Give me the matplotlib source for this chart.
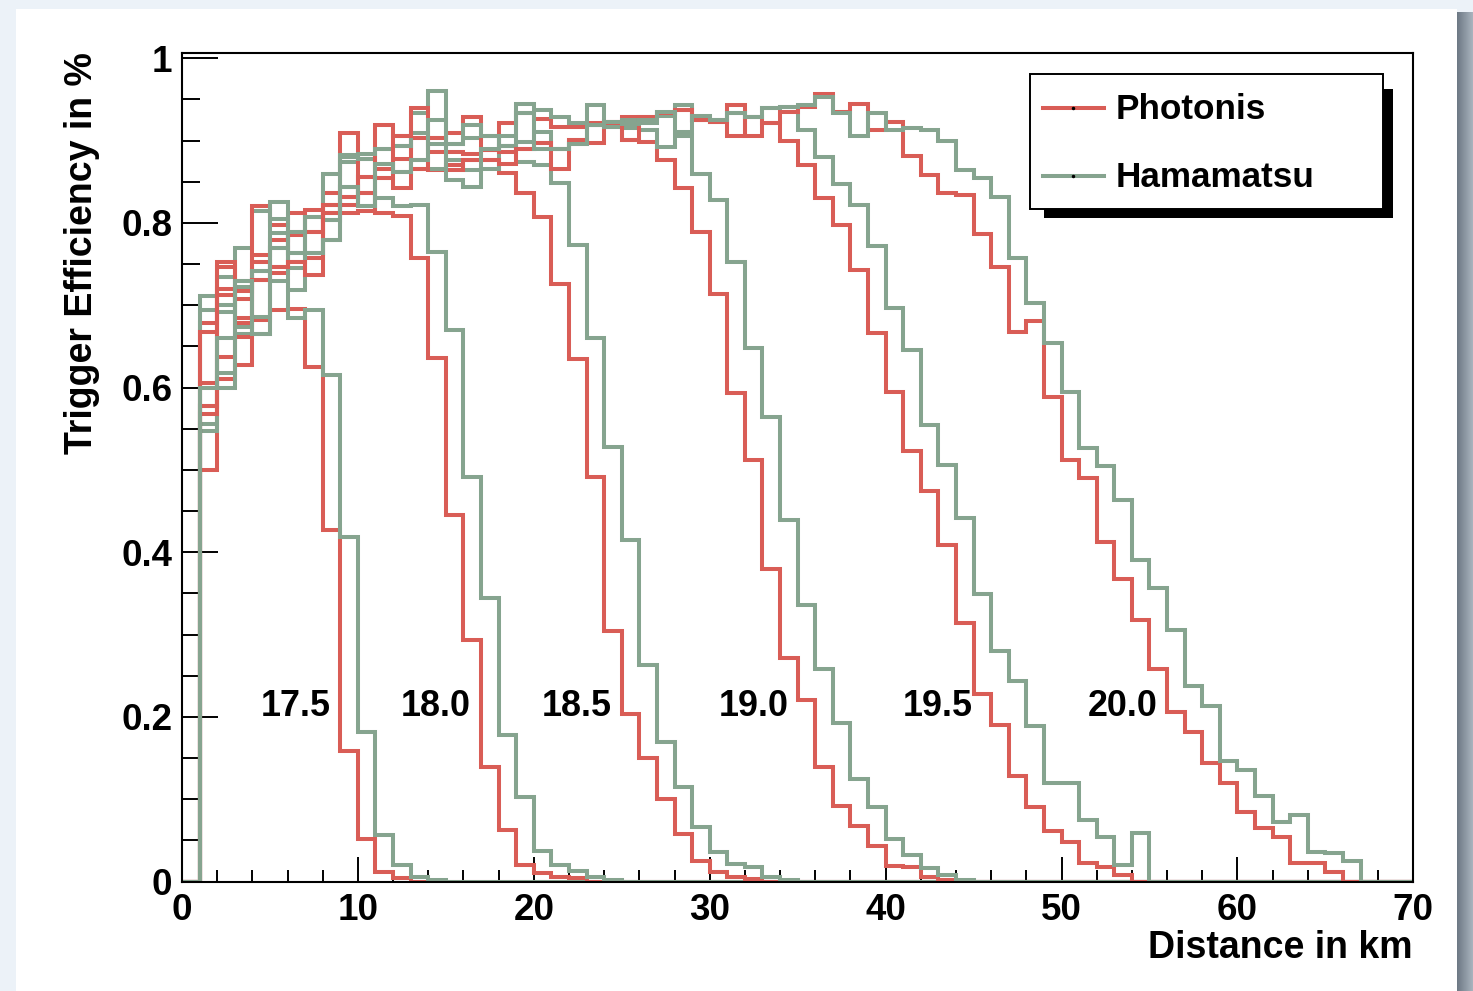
import matplotlib
matplotlib.use("Agg")
import matplotlib.pyplot as plt
import numpy as np
from matplotlib.patches import Rectangle
from matplotlib.lines import Line2D
from matplotlib.colors import LinearSegmentedColormap

# ---------------- data (trigger efficiency per 1 km distance bin, bins start at 0 km) ----------------
photonis_175 = [0, 0.500, 0.610, 0.628, 0.682, 0.694, 0.696, 0.625, 0.427, 0.158, 0.052, 0.012, 0.004]
hamamatsu_175 = [0, 0.547, 0.600, 0.665, 0.665, 0.729, 0.684, 0.694, 0.615, 0.419, 0.182, 0.056, 0.020, 0.006, 0.002]

photonis_180 = [0, 0.605, 0.637, 0.661, 0.731, 0.739, 0.752, 0.757, 0.812, 0.822, 0.836, 0.812, 0.808, 0.757,
                0.636, 0.445, 0.293, 0.139, 0.063, 0.020, 0.010, 0.005, 0.004]
hamamatsu_180 = [0, 0.556, 0.618, 0.673, 0.686, 0.769, 0.763, 0.763, 0.779, 0.844, 0.820, 0.830, 0.820, 0.822,
                 0.765, 0.670, 0.491, 0.344, 0.178, 0.103, 0.037, 0.020, 0.013, 0.006, 0.002]

photonis_185 = [0, 0.568, 0.712, 0.685, 0.753, 0.747, 0.785, 0.789, 0.822, 0.832, 0.856, 0.854, 0.842, 0.866,
                0.864, 0.870, 0.876, 0.876, 0.861, 0.836, 0.807, 0.726, 0.635, 0.491, 0.304, 0.204, 0.150,
                0.100, 0.058, 0.025, 0.011, 0.006, 0.003]
hamamatsu_185 = [0, 0.694, 0.692, 0.722, 0.741, 0.788, 0.745, 0.807, 0.803, 0.874, 0.878, 0.872, 0.862, 0.876,
                 0.866, 0.876, 0.864, 0.866, 0.894, 0.874, 0.870, 0.848, 0.773, 0.660, 0.528, 0.415, 0.263,
                 0.170, 0.115, 0.066, 0.036, 0.021, 0.018, 0.006, 0.002]

photonis_190 = [0, 0.678, 0.746, 0.717, 0.761, 0.779, 0.789, 0.816, 0.836, 0.909, 0.836, 0.866, 0.878, 0.903,
                0.886, 0.886, 0.884, 0.888, 0.886, 0.890, 0.897, 0.890, 0.901, 0.897, 0.923, 0.901, 0.898,
                0.876, 0.842, 0.789, 0.714, 0.594, 0.512, 0.380, 0.272, 0.220, 0.139, 0.092, 0.067, 0.043,
                0.019, 0.018, 0.006, 0.002]
hamamatsu_190 = [0, 0.578, 0.734, 0.769, 0.815, 0.805, 0.763, 0.763, 0.860, 0.882, 0.878, 0.890, 0.894, 0.909,
                 0.896, 0.896, 0.903, 0.905, 0.894, 0.898, 0.911, 0.890, 0.896, 0.919, 0.917, 0.915, 0.913,
                 0.892, 0.906, 0.860, 0.828, 0.753, 0.648, 0.564, 0.439, 0.336, 0.258, 0.192, 0.125, 0.090,
                 0.052, 0.032, 0.016, 0.008, 0.002]

photonis_195 = [0, 0.578, 0.752, 0.707, 0.820, 0.797, 0.812, 0.789, 0.822, 0.812, 0.814, 0.919, 0.905, 0.866,
                0.903, 0.909, 0.929, 0.888, 0.921, 0.933, 0.926, 0.917, 0.917, 0.921, 0.920, 0.929, 0.929,
                0.933, 0.937, 0.925, 0.923, 0.943, 0.905, 0.921, 0.899, 0.870, 0.830, 0.797, 0.743, 0.666,
                0.595, 0.523, 0.474, 0.409, 0.314, 0.228, 0.190, 0.128, 0.090, 0.061, 0.048, 0.023, 0.018,
                0.008]
hamamatsu_195 = [0, 0.711, 0.700, 0.730, 0.741, 0.826, 0.719, 0.807, 0.803, 0.880, 0.884, 0.890, 0.894, 0.933,
                 0.960, 0.896, 0.919, 0.905, 0.894, 0.945, 0.937, 0.929, 0.921, 0.943, 0.917, 0.925, 0.921,
                 0.930, 0.943, 0.925, 0.925, 0.933, 0.929, 0.940, 0.941, 0.913, 0.880, 0.847, 0.822, 0.772,
                 0.697, 0.646, 0.555, 0.506, 0.442, 0.349, 0.280, 0.243, 0.189, 0.120, 0.120, 0.075, 0.054,
                 0.020, 0.059]

photonis_200 = [0, 0.667, 0.720, 0.679, 0.731, 0.747, 0.752, 0.737, 0.812, 0.832, 0.856, 0.854, 0.905, 0.939,
                0.903, 0.864, 0.876, 0.876, 0.872, 0.890, 0.897, 0.866, 0.901, 0.919, 0.923, 0.901, 0.929,
                0.933, 0.937, 0.925, 0.923, 0.905, 0.929, 0.921, 0.935, 0.941, 0.957, 0.935, 0.945, 0.913,
                0.923, 0.881, 0.858, 0.836, 0.834, 0.787, 0.746, 0.668, 0.681, 0.589, 0.512, 0.490, 0.413,
                0.368, 0.318, 0.258, 0.206, 0.181, 0.144, 0.120, 0.085, 0.065, 0.054, 0.023, 0.023, 0.011]
hamamatsu_200 = [0, 0.600, 0.660, 0.730, 0.665, 0.769, 0.789, 0.763, 0.779, 0.844, 0.820, 0.872, 0.862, 0.876,
                 0.925, 0.852, 0.844, 0.890, 0.905, 0.933, 0.890, 0.890, 0.896, 0.919, 0.923, 0.920, 0.925,
                 0.935, 0.911, 0.930, 0.925, 0.933, 0.929, 0.940, 0.941, 0.943, 0.953, 0.933, 0.905, 0.933,
                 0.913, 0.915, 0.913, 0.899, 0.864, 0.854, 0.831, 0.757, 0.703, 0.654, 0.595, 0.526, 0.505,
                 0.464, 0.391, 0.357, 0.306, 0.237, 0.213, 0.146, 0.135, 0.104, 0.072, 0.081, 0.036, 0.035,
                 0.025]

energy_labels = ["17.5", "18.0", "18.5", "19.0", "19.5", "20.0"]
label_x = [6.48, 14.45, 22.45, 32.48, 42.98, 53.47]
label_y = 0.213

photonis = [photonis_175, photonis_180, photonis_185, photonis_190, photonis_195, photonis_200]
hamamatsu = [hamamatsu_175, hamamatsu_180, hamamatsu_185, hamamatsu_190, hamamatsu_195, hamamatsu_200]
legend_labels = ["Photonis", "Hamamatsu"]

xticks = [0, 10, 20, 30, 40, 50, 60, 70]
yticks = [0, 0.2, 0.4, 0.6, 0.8, 1.0]
ytick_labels = ["0", "0.2", "0.4", "0.6", "0.8", "1"]

NBINS = 70
edges = np.arange(NBINS + 1)

RED = "#d95d56"
GREEN = "#86a48f"
FONT = "Liberation Sans"

W, H = 1473, 991
fig = plt.figure(figsize=(W / 100, H / 100), dpi=100)
fig.patch.set_facecolor("#ecf2f8")


def fx(px):
    return px / W


def fy(py):
    return 1 - py / H


# white canvas
fig.add_artist(Rectangle((fx(16), 0), fx(1457) - fx(16), fy(9), transform=fig.transFigure,
                         facecolor="white", edgecolor="none", zorder=0))
# grey shaded strip on the right
axg = fig.add_axes([fx(1457), 0, fx(1473) - fx(1457), fy(12)])
cmap = LinearSegmentedColormap.from_list("g", ["#6c7884", "#aab4be"])
axg.imshow(np.linspace(0, 1, 50)[None, :], aspect="auto", cmap=cmap, extent=[0, 1, 0, 1])
axg.axis("off")

ax = fig.add_axes([fx(182), fy(881.5), fx(1413.3) - fx(182), fy(53) - fy(881.5)])
ax.set_facecolor("white")
ax.set_xlim(0, 70)
ax.set_ylim(0, 1.0064)


def pad(v):
    out = np.zeros(NBINS)
    out[:len(v)] = v
    return out


for p, h in zip(photonis, hamamatsu):
    sp = ax.stairs(pad(p), edges, baseline=0, color=RED, lw=2.9, zorder=3)
    sp.set_joinstyle("miter")
    sh = ax.stairs(pad(h), edges, baseline=0, color=GREEN, lw=2.9, zorder=3)
    sh.set_joinstyle("miter")

for lab, x in zip(energy_labels, label_x):
    ax.text(x, label_y, lab, ha="center", va="center", fontsize=25.8, fontweight="bold",
            family=FONT, zorder=5)

# ticks
ax.set_xticks(xticks)
ax.set_xticklabels([str(t) for t in xticks])
ax.set_xticks(np.arange(0, 71, 2), minor=True)
ax.set_yticks(yticks)
ax.set_yticklabels(ytick_labels)
ax.set_yticks(np.arange(0, 1.001, 0.05), minor=True)
ax.tick_params(axis="x", which="major", direction="in", length=18, width=1.4, pad=8,
               labelsize=26.5, top=False)
ax.tick_params(axis="x", which="minor", direction="in", length=9, width=1.4, top=False)
ax.tick_params(axis="y", which="major", direction="in", length=26, width=1.4, pad=7,
               labelsize=26.5, right=False)
ax.tick_params(axis="y", which="minor", direction="in", length=13, width=1.4, right=False)
for lbl in ax.get_xticklabels() + ax.get_yticklabels():
    lbl.set_fontweight("bold")
    lbl.set_family(FONT)
for s in ax.spines.values():
    s.set_linewidth(1.5)
    s.set_zorder(6)

# axis titles
fig.text(fx(82), fy(52), "Trigger Efficiency in %", rotation=90, ha="center", va="top",
         fontsize=27, fontweight="bold", family=FONT)
fig.text(fx(1413), fy(948), "Distance in km", ha="right", va="center",
         fontsize=27, fontweight="bold", family=FONT)

# legend box with shadow
fig.add_artist(Rectangle((fx(1044), fy(218)), fx(1393) - fx(1044), fy(89) - fy(218),
                         transform=fig.transFigure, facecolor="black", edgecolor="none", zorder=7))
fig.add_artist(Rectangle((fx(1030), fy(209)), fx(1383) - fx(1030), fy(74) - fy(209),
                         transform=fig.transFigure, facecolor="white", edgecolor="black",
                         lw=1.4, zorder=8))
for lab, col, py in zip(legend_labels, [RED, GREEN], [108, 176]):
    fig.add_artist(Line2D([fx(1043), fx(1104)], [fy(py), fy(py)], transform=fig.transFigure,
                          color=col, lw=2.9, zorder=9))
    fig.add_artist(Line2D([fx(1073)], [fy(py)], transform=fig.transFigure, marker="o",
                          markersize=1.5, color="black", lw=0, zorder=10))
    fig.text(fx(1116), fy(py + 1.5), lab, ha="left", va="center", fontsize=25.3, fontweight="bold",
             family=FONT, zorder=10)

fig.savefig("out.png", dpi=100, facecolor=fig.get_facecolor())
